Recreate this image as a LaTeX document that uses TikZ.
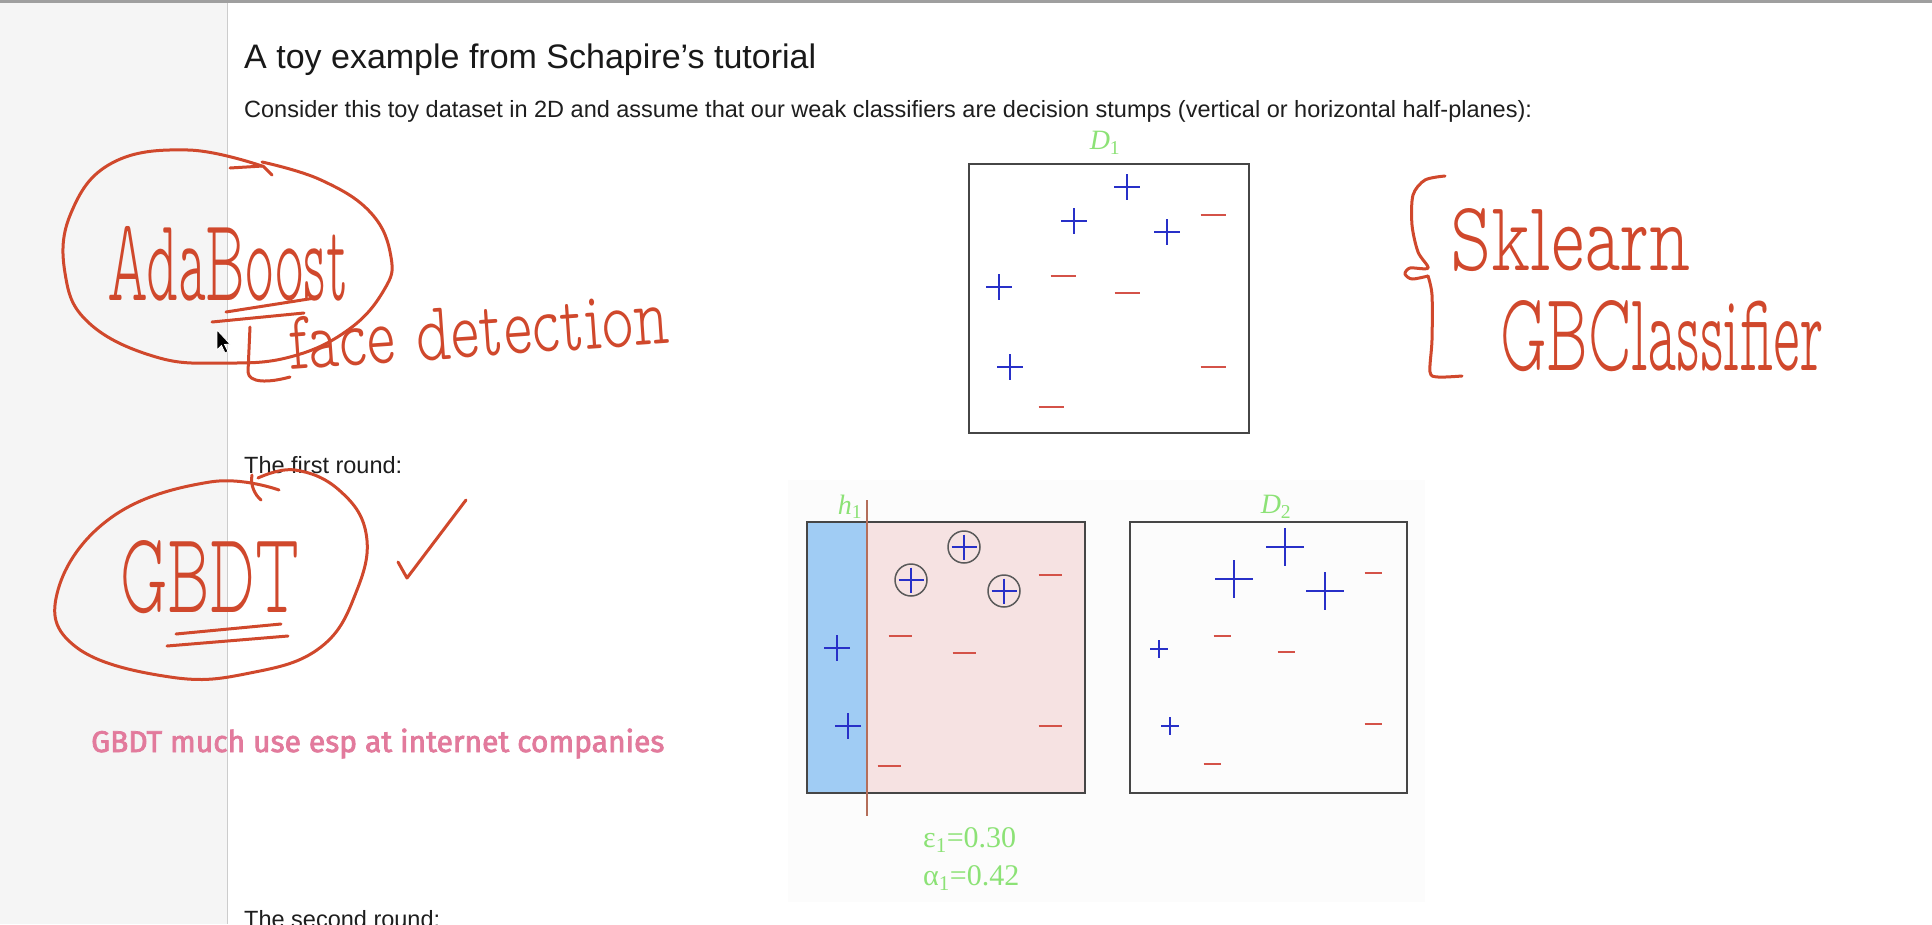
\documentclass[tikz,border=0pt]{standalone}
\usepackage{fontspec}
\newfontfamily\arial{Liberation Sans}
\newfontfamily\tnr{Liberation Serif}
\newfontfamily\pinkf[FakeBold=2.5]{Fira Sans}
\newfontfamily\hand{lmmonoproplt10-regular.otf}
\definecolor{hw}{RGB}{208,72,44}
\definecolor{grn}{RGB}{140,226,118}
\definecolor{plc}{RGB}{40,48,200}
\definecolor{mnc}{RGB}{212,82,72}
\definecolor{pinkt}{RGB}{226,122,156}
\definecolor{side}{RGB}{245,245,245}
\definecolor{bluefill}{RGB}{160,204,244}
\definecolor{pinkfill}{RGB}{246,226,226}
\definecolor{boxc}{RGB}{70,70,70}
\definecolor{txt}{RGB}{30,30,30}
\definecolor{ringc}{RGB}{90,90,90}
\definecolor{hlinec}{RGB}{180,110,90}
\definecolor{panelbg}{RGB}{252,252,252}
\tikzset{
  pc/.style={draw=plc,line width=2pt},
  mc/.style={draw=mnc,line width=2pt},
  pics/pl/.style={code={\draw[pc] (-#1,0)--(#1,0) (0,-#1)--(0,#1);}},
  pics/mi/.style={code={\draw[mc] (-#1,0)--(#1,0);}},
  pen/.style={draw=hw,line width=3pt,line cap=round,line join=round},
  hwt/.style={text=hw,inner sep=0pt,font=\hand,anchor=base west},
  body/.style={text=txt,inner sep=0pt,anchor=base west,font=\arial\fontsize{23.5}{27}\selectfont},
  glab/.style={text=grn,inner sep=0pt,font=\tnr\fontsize{28}{32}\selectfont},
  panelbox/.style={draw=boxc,line width=2.2pt,inner sep=0pt,outer sep=0pt},
  ring/.style={circle,draw=ringc,line width=1.5pt,minimum size=32pt,inner sep=0pt}
}
\begin{document}
\begin{tikzpicture}[x=1pt,y=-1pt]
\useasboundingbox (0,0) rectangle (1932,924);
\fill[white] (0,0) rectangle (1932,924);
% sidebar and top rule
\fill[side] (0,0) rectangle (227,924);
\draw[gray!40,line width=1pt] (227,0) -- (227,924);
\fill[gray!75] (0,0) rectangle (1932,2.5);

% page text
\node[body,font=\arial\fontsize{34}{39}\selectfont,text=black!90] (title) at (244,68) {A toy example from Schapire’s tutorial};
\node[body] (intro) at (244,117) {Consider this toy dataset in 2D and assume that our weak classifiers are decision stumps (vertical or horizontal half-planes):};
\node[body] (r1) at (244,473) {The first round:};
\node[body] (r2) at (244,927) {The second round:};

% D1 panel
\node[glab] (d1lab) at (1105,143) {\itshape D\textsubscript{\upshape 1}};
\node[panelbox,minimum width=280pt,minimum height=269pt] (d1box) at (1109,298.5) {};
\pic at (1127,187) {pl=13};
\pic at (1074,221) {pl=13};
\pic at (1167,232) {pl=13};
\pic at (999,287) {pl=13};
\pic at (1010,367) {pl=13};
\pic at (1213,215) {mi=12.5};
\pic at (1063,276) {mi=12.5};
\pic at (1127,293) {mi=12.5};
\pic at (1213,367) {mi=12.5};
\pic at (1051,407) {mi=12.5};

% round 1 figure
\fill[panelbg] (788,480) rectangle (1425,902);
\fill[bluefill] (807,522) rectangle (867,793);
\fill[pinkfill] (867,522) rectangle (1085,793);
\node[panelbox,minimum width=278pt,minimum height=271pt] (h1box) at (946,657.5) {};
\draw[hlinec,line width=1.5pt] (867,500) -- (867,816);
\node[glab] (h1lab) at (850,507) {\itshape h\textsubscript{\upshape 1}};
\node[ring] (c1) at (964,547) {};
\node[ring] (c2) at (911,580) {};
\node[ring] (c3) at (1004,591) {};
\pic at (964,547) {pl=12.5};
\pic at (911,580) {pl=12.5};
\pic at (1004,591) {pl=12.5};
\pic at (837,648) {pl=13};
\pic at (848,726) {pl=13};
\pic at (1050,575) {mi=11.5};
\pic at (900,636) {mi=11.5};
\pic at (964,653) {mi=11.5};
\pic at (1050,726) {mi=11.5};
\pic at (889,766) {mi=11.5};
\node[glab,anchor=base west,font=\tnr\fontsize{30}{34}\selectfont] (eps) at (923,847) {ε\textsubscript{1}=0.30};
\node[glab,anchor=base west,font=\tnr\fontsize{30}{34}\selectfont] (alp) at (923,885) {α\textsubscript{1}=0.42};

% D2 panel
\node[glab] (d2lab) at (1276,507) {\itshape D\textsubscript{\upshape 2}};
\node[panelbox,minimum width=277pt,minimum height=271pt] (d2box) at (1268.5,657.5) {};
\pic at (1285,547) {pl=19};
\pic at (1234,579) {pl=19};
\pic at (1325,591) {pl=19};
\pic at (1159,649) {pl=9};
\pic at (1170,726) {pl=9};
\pic at (1373,573) {mi=8.5};
\pic at (1222,636) {mi=8.5};
\pic at (1286,652) {mi=8.5};
\pic at (1373,724) {mi=8.5};
\pic at (1212,764) {mi=8.5};

% pink caption
\node[inner sep=0pt,anchor=base west,text=pinkt,font=\pinkf\fontsize{30}{34}\selectfont] (pink) at (91,752) {GBDT much use esp at internet companies};

% ---- handwriting ----
% AdaBoost
\draw[pen] plot[smooth,tension=0.7] coordinates {(262,166) (188,150) (112,163) (71,213) (65,273) (89,323) (156,357) (223,363) (290,357) (348,330) (384,290) (391,257) (371,213) (321,180) (262,162)};
\draw[pen] (230,168) -- (263,166) -- (272,175);
\node[hwt] (ada) at (107,300) {\resizebox{241pt}{74pt}{AdaBoost}};
\draw[pen] (226,312) -- (315,298);
\draw[pen] (212,322) -- (304,313);
\draw[pen] (250,327) -- (248,372) .. controls (249,383) and (268,383) .. (290,377);
\node[hwt,rotate=4] (face) at (290,370) {\resizebox{381pt}{52pt}{face detection}};
% cursor
\fill[black,draw=white,line width=0.8pt] (217,330) -- (217,350) -- (221.5,345.5) -- (225,353) -- (228,351.5) -- (224.5,344.5) -- (230,344) -- cycle;

% GBDT
\draw[pen] plot[smooth,tension=0.7] coordinates {(258,478) (295,470) (339,490) (366,533) (357,590) (321,647) (250,673) (170,677) (76,647) (58,590) (112,517) (210,482) (279,490)};
\draw[pen] (252,475) .. controls (250,485) and (255,495) .. (261,500);
\node[hwt] (gbdt) at (120,612) {\resizebox{179pt}{72pt}{GBDT}};
\draw[pen] (176,634) -- (281,624);
\draw[pen] (167,646) -- (288,636);
% check mark
\draw[pen] (398,562) -- (407,578) -- (466,500);

% brace with sklearn
\draw[pen] plot[smooth] coordinates {(1445,176) (1425,180) (1413,195) (1412,225) (1418,252) (1428,268) (1410,268) (1405,274) (1412,279) (1428,276)};
\draw[pen] plot[smooth] coordinates {(1428,276) (1432,295) (1432,340) (1430,372) (1438,377) (1462,376)};
\node[hwt] (skl) at (1450,270) {\resizebox{240pt}{62pt}{Sklearn}};
\node[hwt] (gbc) at (1500,370) {\resizebox{323pt}{70pt}{GBClassifier}};
\end{tikzpicture}
\end{document}
